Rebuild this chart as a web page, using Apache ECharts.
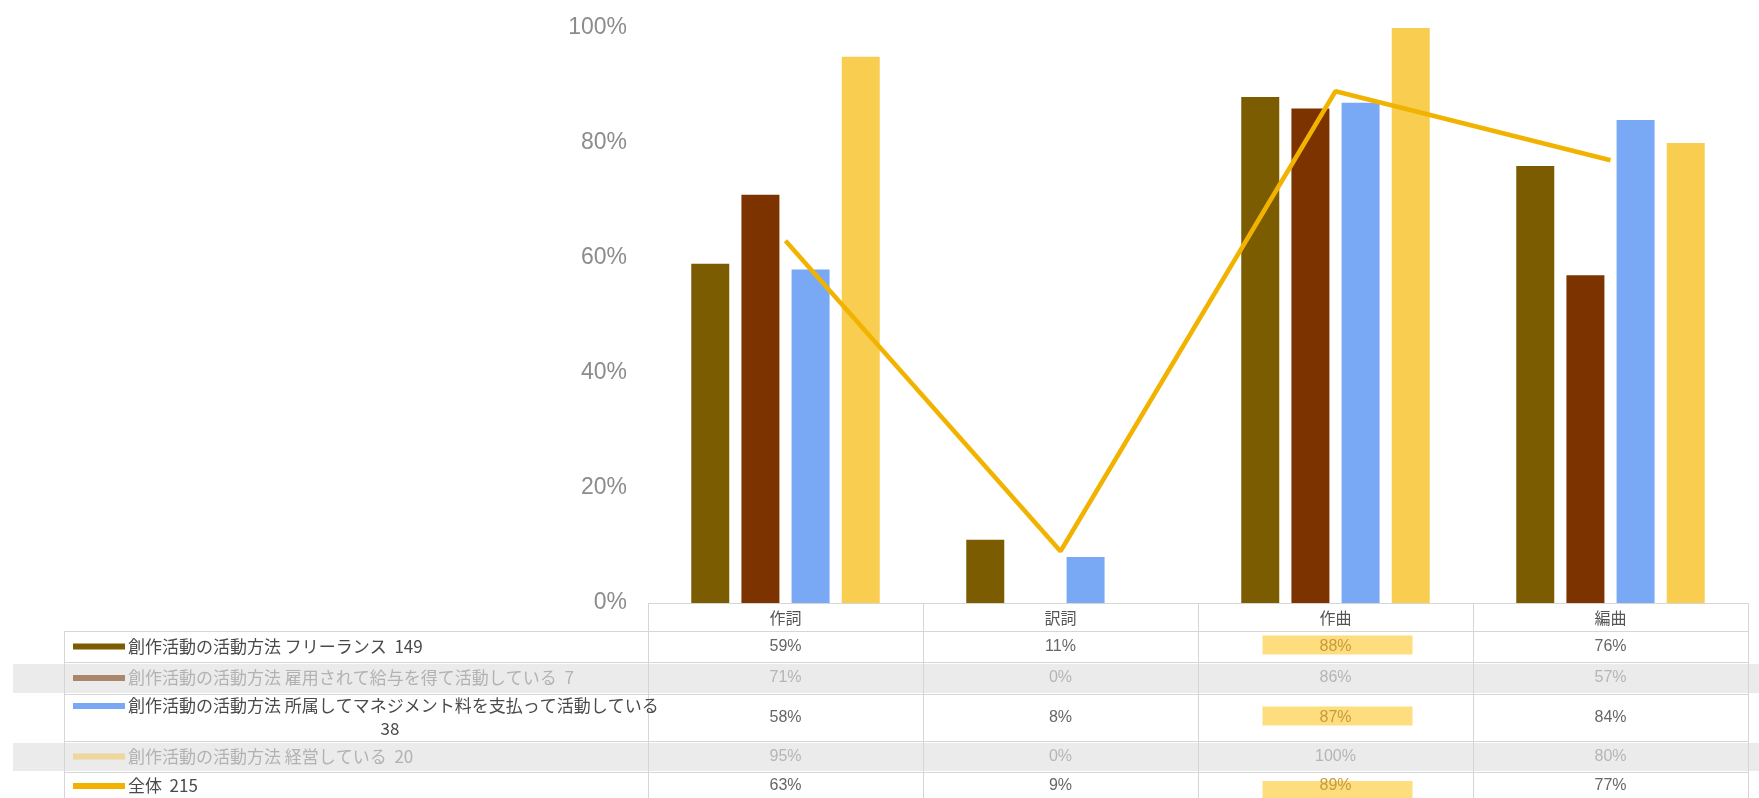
<!DOCTYPE html>
<html>
<head>
<meta charset="utf-8">
<script src="https://cdn.jsdelivr.net/npm/echarts@6/dist/echarts.min.js"></script>
<style>
    html, body { margin: 0; padding: 0; background: #fff; }
    #chart { width: 1759px; height: 798px; }
</style>
</head>
<body>
<div id="chart"></div>
<script>
let categories = ['作詞', '訳詞', '作曲', '編曲'];
let seriesNames = [
    '創作活動の活動方法 フリーランス',
    '創作活動の活動方法 雇用されて給与を得て活動している',
    '創作活動の活動方法 所属してマネジメント料を支払って活動している',
    '創作活動の活動方法 経営している',
    '全体'
];
let seriesCounts = [149, 7, 38, 20, 215];
let freelance = [59, 11, 88, 76];
let employed = [71, 0, 86, 57];
let managed = [58, 8, 87, 84];
let business = [95, 0, 100, 80];
let overall = [63, 9, 89, 77];
let rowDisabled = [false, true, false, true, false];

let colors = ['#7b5c00', '#7c3300', '#79a8f4', '#f8cd50', '#f1b300'];
let swatchColors = ['#7b5c00', '#a9866c', '#79a8f4', '#eed69c', '#f1b300'];
let jpFont = '"Noto Sans CJK JP", sans-serif';
let numFont = '"Liberation Sans", Arial, sans-serif';

let barSeries = (name, data, color) => ({
    name: name,
    type: 'bar',
    barWidth: 38,
    barGap: '32%',
    itemStyle: { color: color },
    data: data
});

let option = {
    animation: false,
    grid: { left: 648, right: 11, top: 28, bottom: 195, containLabel: false },
    legend: { show: false },
    xAxis: {
        type: 'category',
        data: categories,
        axisLine: { show: false },
        axisTick: { show: false },
        axisLabel: { show: false },
        splitLine: { show: false }
    },
    yAxis: {
        type: 'value',
        min: 0,
        max: 100,
        interval: 20,
        axisLine: { show: false },
        axisTick: { show: false },
        splitLine: { show: false },
        axisLabel: {
            formatter: '{value}%',
            margin: 21,
            fontSize: 23,
            color: '#8c8c8c',
            fontFamily: numFont
        }
    },
    series: [
        barSeries(seriesNames[0], freelance, colors[0]),
        barSeries(seriesNames[1], employed, colors[1]),
        barSeries(seriesNames[2], managed, colors[2]),
        barSeries(seriesNames[3], business, colors[3]),
        {
            name: seriesNames[4],
            type: 'line',
            symbol: 'none',
            z: 5,
            lineStyle: { width: 4.5, color: colors[4] },
            itemStyle: { color: colors[4] },
            data: overall
        }
    ]
};

let chart = echarts.init(document.getElementById('chart'));
chart.setOption(option);

// 表 (データテーブル)
let tableRows = [freelance, employed, managed, business, overall];
let rowEdges = [631, 662, 694, 741, 772, 803];
let labelWrap = [false, false, true, false, false];

let buildTable = () => {
    let els = [];
    let top = chart.convertToPixel({ yAxisIndex: 0 }, 0);
    let centers = categories.map((c, i) => chart.convertToPixel({ xAxisIndex: 0 }, i));
    let half = (centers[1] - centers[0]) / 2;
    let colLeft = centers[0] - half;
    let colRight = centers[centers.length - 1] + half;
    let tableLeft = 64;
    let bottom = 798;
    let lineColor = '#d6d6d6';

    // 無効行の背景
    rowDisabled.forEach((d, i) => {
        if (!d) return;
        els.push({
            type: 'rect', z: 0, silent: true,
            shape: { x: 13, y: rowEdges[i] + 2, width: 1759 - 13, height: rowEdges[i + 1] - rowEdges[i] - 3 },
            style: { fill: '#ebebeb' }
        });
    });

    // 罫線
    let hLine = (x1, x2, y) => els.push({
        type: 'line', z: 1, silent: true,
        shape: { x1: x1, y1: y + 0.5, x2: x2, y2: y + 0.5 },
        style: { stroke: lineColor, lineWidth: 1 }
    });
    let vLine = (x, y1, y2) => els.push({
        type: 'line', z: 1, silent: true,
        shape: { x1: x + 0.5, y1: y1, x2: x + 0.5, y2: y2 },
        style: { stroke: lineColor, lineWidth: 1 }
    });
    hLine(colLeft, colRight, top);
    rowEdges.forEach(y => hLine(tableLeft, colRight, y));
    vLine(tableLeft, rowEdges[0], bottom);
    vLine(colLeft, top, bottom);
    centers.forEach(cx => vLine(cx + half, top, bottom));

    // ヘッダー
    categories.forEach((c, i) => {
        els.push({
            type: 'text', z: 3, silent: true,
            style: {
                text: c, x: centers[i], y: (top + rowEdges[0]) / 2 + 1,
                align: 'center', verticalAlign: 'middle',
                font: '16px ' + jpFont, fill: '#555'
            }
        });
    });

    tableRows.forEach((vals, r) => {
        let y0 = rowEdges[r], y1 = rowEdges[r + 1];
        let cy = (y0 + Math.min(y1, bottom + 5)) / 2;
        if (r === tableRows.length - 1) cy = y0 + 14;
        let disabled = rowDisabled[r];
        let firstLineY = labelWrap[r] ? cy - 11.5 : cy;
        let labelColor = disabled ? '#b2b2b2' : '#4a4a4a';

        // 凡例スウォッチ
        els.push({
            type: 'line', z: 3, silent: true,
            shape: { x1: 73, y1: firstLineY, x2: 125, y2: firstLineY },
            style: { stroke: swatchColors[r], lineWidth: 6 }
        });

        if (labelWrap[r]) {
            els.push({
                type: 'text', z: 3, silent: true,
                style: {
                    text: seriesNames[r], x: 128, y: firstLineY,
                    align: 'left', verticalAlign: 'middle',
                    font: '17px ' + jpFont, fill: labelColor
                }
            });
            els.push({
                type: 'text', z: 3, silent: true,
                style: {
                    text: String(seriesCounts[r]), x: 390, y: firstLineY + 23,
                    align: 'center', verticalAlign: 'middle',
                    font: '17px ' + jpFont, fill: labelColor
                }
            });
        } else {
            els.push({
                type: 'text', z: 3, silent: true,
                style: {
                    text: seriesNames[r] + '  ' + seriesCounts[r], x: 128, y: cy,
                    align: 'left', verticalAlign: 'middle',
                    font: '17px ' + jpFont, fill: labelColor
                }
            });
        }

        vals.forEach((v, i) => {
            let highlight = !disabled && v >= 85;
            if (highlight) {
                els.push({
                    type: 'rect', z: 2, silent: true,
                    shape: { x: centers[i] - 73, y: cy - 10 + (r === tableRows.length - 1 ? 5 : -1), width: 150, height: 19 },
                    style: { fill: '#fedd7e' }
                });
            }
            els.push({
                type: 'text', z: 3, silent: true,
                style: {
                    text: v + '%', x: centers[i], y: cy,
                    align: 'center', verticalAlign: 'middle',
                    font: '16px ' + numFont,
                    fill: highlight ? '#c79b3a' : (disabled ? '#b5b5b5' : '#666')
                }
            });
        });
    });
    return els;
};

chart.setOption({ graphic: { elements: buildTable() } });
</script>
</body>
</html>
